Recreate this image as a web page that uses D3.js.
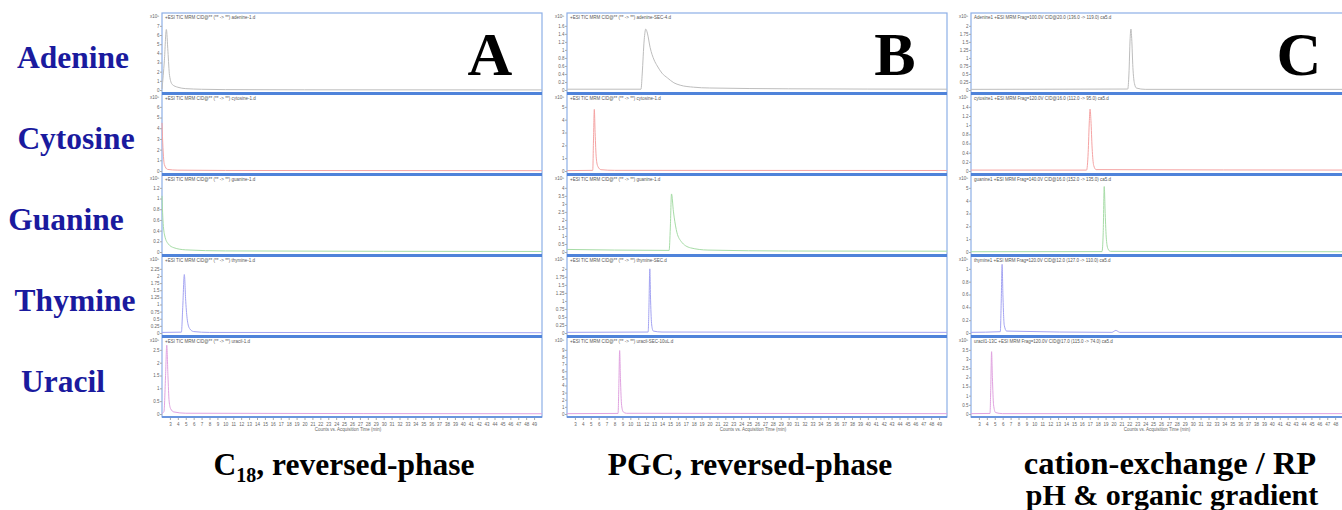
<!DOCTYPE html>
<html>
<head>
<meta charset="utf-8">
<script src="https://cdn.jsdelivr.net/npm/d3@7"></script>
<style>
  body { margin: 0; background: #fff; }
  svg text { font-family: "Liberation Sans", Arial, sans-serif; }
  .serif { font-family: "Liberation Serif", "Times New Roman", serif !important; font-weight: bold; }
</style>
</head>
<body>
<div class="chromPlot"></div>
<script>
// ---- data ----
var compounds = ["Adenine", "Cytosine", "Guanine", "Thymine", "Uracil"];
var panelLetters = ["A", "B", "C"];
var xTicks = d3.range(3, 50);

// top y tick of each sub plot (row order = compounds)
var yTopA = [7, 6, 1.2, 2.25, 2.5];
var yTopB = [1.6, 5, 4, 2, 9];
var yTopC = [2, 1.4, 5, 1, 3.5];
var yStepA = [1, 1, 0.2, 0.25, 0.5];
var yStepB = [0.2, 1, 0.5, 0.25, 1];
var yStepC = [0.25, 0.2, 1, 0.2, 0.5];

var titlesA = ["+ESI TIC MRM CID@** (** -> **) adenine-1.d", "+ESI TIC MRM CID@** (** -> **) cytosine-1.d",
  "+ESI TIC MRM CID@** (** -> **) guanine-1.d", "+ESI TIC MRM CID@** (** -> **) thymine-1.d", "+ESI TIC MRM CID@** (** -> **) uracil-1.d"];
var titlesB = ["+ESI TIC MRM CID@** (** -> **) adenine-SEC-4.d", "+ESI TIC MRM CID@** (** -> **) cytosine-1.d",
  "+ESI TIC MRM CID@** (** -> **) guanine-1.d", "+ESI TIC MRM CID@** (** -> **) thymine-SEC.d", "+ESI TIC MRM CID@** (** -> **) uracil-SEC-10uL.d"];
var titlesC = ["Adenine1 +ESI MRM Frag=100.0V CID@20.0 (136.0 -> 119.0) ca5.d", "cytosine1 +ESI MRM Frag=120.0V CID@16.0 (112.0 -> 95.0) ca5.d",
  "guanine1 +ESI MRM Frag=140.0V CID@16.0 (152.0 -> 135.0) ca5.d", "thymine1 +ESI MRM Frag=120.0V CID@12.0 (127.0 -> 110.0) ca5.d",
  "uracil1-13C +ESI MRM Frag=120.0V CID@17.0 (115.0 -> 74.0) ca5.d"];

// traces: [time (min), counts]
var traceA = [
  [[2.0,0.1],[2.3,3.2],[2.55,6.6],[2.75,4.2],[2.95,1.6],[3.3,0.6],[4,0.3],[5,0.15],[7,0.08],[10,0.04],[20,0.02],[50,0.01]],
  [[2.0,4.5],[2.12,2.2],[2.3,0.6],[2.7,0.15],[4,0.08],[10,0.05],[25,0.04],[50,0.03]],
  [[2.0,1.05],[2.12,0.6],[2.35,0.3],[2.8,0.15],[3.5,0.08],[5,0.04],[10,0.02],[50,0.01]],
  [[2.0,0.02],[4.45,0.03],[4.62,0.9],[4.82,2.05],[5.0,1.1],[5.2,0.45],[5.5,0.15],[6,0.05],[8,0.02],[50,0.01]],
  [[2.0,0.02],[2.25,0.1],[2.45,1.5],[2.6,2.68],[2.75,1.5],[2.9,0.5],[3.1,0.2],[3.5,0.08],[5,0.03],[50,0.01]]
];
var traceB = [
  [[2.0,0.02],[11.35,0.02],[11.5,0.4],[11.75,1.25],[11.95,1.52],[12.15,1.42],[12.5,1.06],[13,0.75],[13.4,0.6],[14,0.42],[14.7,0.3],[15.5,0.18],[16.3,0.12],[18,0.07],[20,0.05],[30,0.03],[50,0.02]],
  [[2.0,0.03],[5.25,0.05],[5.35,2.5],[5.45,4.8],[5.55,3.0],[5.7,1.0],[5.9,0.35],[6.3,0.1],[8,0.05],[50,0.04]],
  [[2.0,0.16],[8,0.12],[14.9,0.1],[15.05,1.5],[15.2,3.62],[15.45,2.5],[15.8,1.4],[16.4,0.67],[17.6,0.26],[19.8,0.12],[30,0.06],[50,0.05]],
  [[2.0,0.02],[12.25,0.03],[12.35,0.8],[12.46,2.0],[12.56,1.0],[12.7,0.25],[12.9,0.06],[14,0.03],[50,0.02]],
  [[2.0,0.05],[8.45,0.08],[8.55,4.0],[8.65,8.9],[8.75,5.0],[8.9,1.2],[9.1,0.3],[9.5,0.1],[50,0.05]]
];
var traceC = [
  [[2.0,0.02],[21.8,0.03],[21.95,0.5],[22.1,1.6],[22.2,1.9],[22.3,1.6],[22.45,0.7],[22.65,0.2],[22.9,0.06],[24,0.02],[50,0.02]],
  [[2.0,0.02],[16.6,0.02],[16.8,0.4],[16.95,1.1],[17.04,1.35],[17.15,1.1],[17.3,0.5],[17.5,0.12],[17.8,0.03],[50,0.02]],
  [[2.0,0.02],[18.55,0.03],[18.7,1.5],[18.83,5.1],[18.95,3.0],[19.1,1.0],[19.3,0.25],[19.6,0.05],[50,0.02]],
  [[2.0,0.01],[5.7,0.02],[5.82,0.5],[5.93,1.07],[6.03,0.6],[6.2,0.12],[6.5,0.03],[19.8,0.01],[20.3,0.04],[20.8,0.01],[50,0.01]],
  [[2.0,0.02],[4.4,0.03],[4.5,1.5],[4.6,3.4],[4.7,2.0],[4.85,0.5],[5.1,0.08],[6,0.02],[50,0.02]]
];

var captions = [["C", "18", ", reversed-phase"], ["PGC, reversed-phase"], ["cation-exchange / RP", "pH & organic gradient"]];

// ---- layout ----
var traceColours = ["#bdbdbd", "#f5a3a3", "#a6dca6", "#a3a3f2", "#e0a2e0"];
var labelX = [73, 76, 66, 75, 63];
var panelLeft = [162, 567, 971];
var panelWidth = 380;
var rowTop = [13, 94, 175, 256, 337];
var rowH = 81;
var W = 1342;

var svg = d3.select(".chromPlot").append("svg")
  .attr("width", W)
  .attr("height", 510);

var panels = [
  {trace: traceA, yTop: yTopA, yStep: yStepA, titles: titlesA},
  {trace: traceB, yTop: yTopB, yStep: yStepB, titles: titlesB},
  {trace: traceC, yTop: yTopC, yStep: yStepC, titles: titlesC}
];

panels.forEach((p, pi) => {
  let left = panelLeft[pi];
  let x = d3.scaleLinear().domain([2, 50]).range([left, left + panelWidth]);

  p.trace.forEach((pts, ri) => {
    let T = rowTop[ri];
    let g = svg.append("g").attr("class", "sub");

    g.append("rect")
      .attr("x", left).attr("y", T)
      .attr("width", panelWidth).attr("height", rowH - 1)
      .style("fill", "#fff")
      .style("stroke", "#8dafe6")
      .style("stroke-width", 1.2);

    let y = d3.scaleLinear()
      .domain([0, p.yTop[ri] * 1.06])
      .range([T + 77, T + 9]);

    let yAxis = d3.axisLeft(y)
      .tickValues(d3.range(0, p.yTop[ri] + 1e-9, p.yStep[ri]))
      .tickSize(2)
      .tickFormat(d => d3.format("~g")(+d.toFixed(2)));

    let ya = g.append("g")
      .attr("transform", `translate(${left}, 0)`)
      .call(yAxis);
    ya.select(".domain").remove();
    ya.selectAll("text").style("font-size", "4.5px").style("fill", "#666").attr("x", -2.5);
    ya.selectAll("line").style("stroke", "#aaa");

    g.append("text")
      .attr("x", left - 3).attr("y", T + 5)
      .style("text-anchor", "end")
      .style("font-size", "4.5px")
      .style("fill", "#666")
      .text("x10⁵");

    g.append("text")
      .attr("x", left + 3).attr("y", T + 5.5)
      .style("font-size", "4.5px")
      .style("fill", "#555")
      .text(p.titles[ri]);

    let line = d3.line()
      .x(d => x(d[0]))
      .y(d => y(d[1]))
      .curve(d3.curveMonotoneX);

    g.append("path")
      .datum(pts)
      .attr("d", line)
      .style("fill", "none")
      .style("stroke", traceColours[ri])
      .style("stroke-width", 1);
  });

  // separators between rows
  rowTop.forEach((T, ri) => {
    if (ri == 0) return;
    svg.append("line")
      .attr("x1", left).attr("x2", left + panelWidth)
      .attr("y1", T - 0.5).attr("y2", T - 0.5)
      .style("stroke", "#4f83da")
      .style("stroke-width", 3);
  });
  svg.append("line")
    .attr("x1", left).attr("x2", left + panelWidth)
    .attr("y1", rowTop[4] + rowH - 1).attr("y2", rowTop[4] + rowH - 1)
    .style("stroke", "#6b95dd")
    .style("stroke-width", 2);

  let xAxis = d3.axisBottom(x)
    .tickValues(xTicks.filter(d => x(d) + 3 < W))
    .tickSize(2)
    .tickFormat(d3.format("d"));

  let xa = svg.append("g")
    .attr("transform", `translate(0, ${rowTop[4] + rowH})`)
    .call(xAxis);
  xa.select(".domain").remove();
  xa.selectAll("text").style("font-size", "4.5px").style("fill", "#666");
  xa.selectAll("line").style("stroke", "#aaa");

  svg.append("text")
    .attr("x", x(25.5)).attr("y", rowTop[4] + rowH + 13)
    .style("text-anchor", "middle")
    .style("font-size", "4.5px")
    .style("fill", "#666")
    .text("Counts vs. Acquisition Time (min)");

  svg.append("text")
    .attr("class", "serif")
    .attr("x", left + panelWidth - 52).attr("y", 75)
    .style("text-anchor", "middle")
    .style("font-size", "62px")
    .style("fill", "#000")
    .text(panelLetters[pi]);
});

// compound names on the left
svg.selectAll("text.compound")
  .data(compounds)
  .enter()
  .append("text")
  .attr("class", "compound serif")
  .attr("x", (d, i) => labelX[i])
  .attr("y", (d, i) => rowTop[i] + 55)
  .style("text-anchor", "middle")
  .style("font-size", "31.5px")
  .style("fill", "#1a1a9e")
  .text(d => d);

// captions
let capA = svg.append("text")
  .attr("class", "serif")
  .attr("x", 344).attr("y", 475)
  .style("text-anchor", "middle")
  .style("font-size", "31.5px");
capA.append("tspan").text(captions[0][0]);
capA.append("tspan").attr("dy", 7).style("font-size", "20px").text(captions[0][1]);
capA.append("tspan").attr("dy", -7).text(captions[0][2]);

svg.append("text")
  .attr("class", "serif")
  .attr("x", 750).attr("y", 475)
  .style("text-anchor", "middle")
  .style("font-size", "31.5px")
  .text(captions[1][0]);

svg.append("text")
  .attr("class", "serif")
  .attr("x", 1170).attr("y", 474)
  .style("text-anchor", "middle")
  .style("font-size", "32.5px")
  .text(captions[2][0]);

svg.append("text")
  .attr("class", "serif")
  .attr("x", 1172).attr("y", 505)
  .style("text-anchor", "middle")
  .style("font-size", "30px")
  .text(captions[2][1]);
</script>
</body>
</html>
